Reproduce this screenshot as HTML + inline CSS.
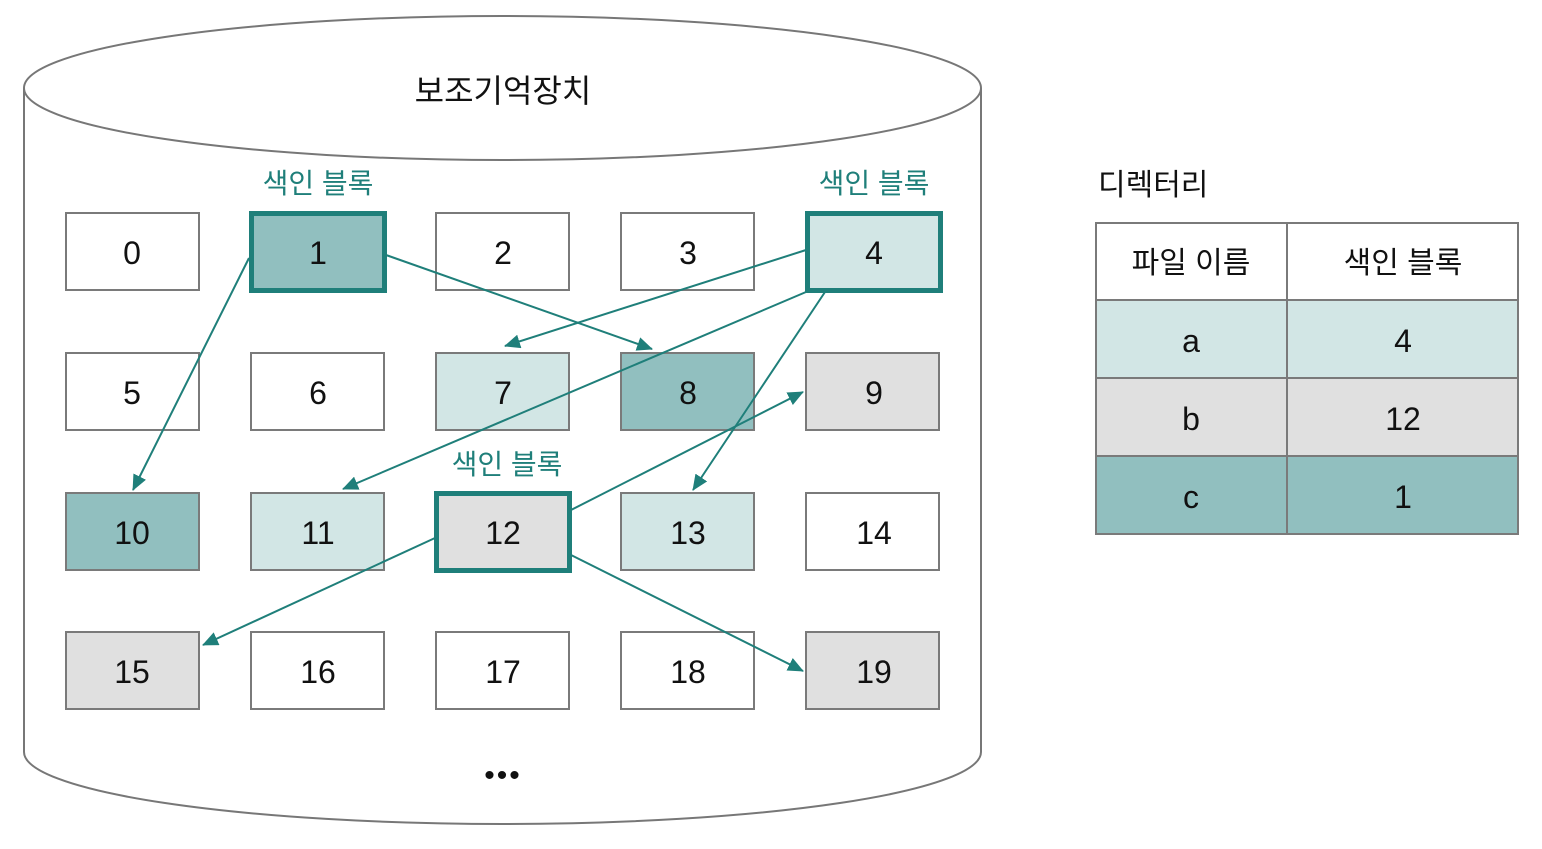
<!DOCTYPE html>
<html><head><meta charset="utf-8"><style>
html,body{margin:0;padding:0;background:#fff;}
svg text{font-family:"Liberation Sans","Noto Sans CJK KR",sans-serif;}
</style></head><body>
<svg width="1542" height="844" viewBox="0 0 1542 844" xmlns="http://www.w3.org/2000/svg">
<defs>
<marker id="a" markerWidth="10" markerHeight="10" refX="9" refY="5" orient="auto" markerUnits="userSpaceOnUse" viewBox="0 0 10 10">
<path d="M0,0 L10,5 L0,10 z" fill="#1f7f7a"/></marker>
<marker id="b" markerWidth="16" markerHeight="14" refX="15" refY="7" orient="auto" markerUnits="userSpaceOnUse" viewBox="0 0 16 14">
<path d="M0,0 L16,7 L0,14 z" fill="#1f7f7a"/></marker>
</defs>
<!-- cylinder -->
<path d="M24,88 L24,752 A478.5,72 0 0 0 981,752 L981,88" fill="#fff" stroke="#777" stroke-width="2"/>
<ellipse cx="502.5" cy="88" rx="478.5" ry="72" fill="#fff" stroke="#777" stroke-width="2"/>
<text x="503" y="102" font-size="32" text-anchor="middle" fill="#111">보조기억장치</text>
<text x="503" y="785" font-size="30" text-anchor="middle" fill="#111" letter-spacing="2">•••</text>
<g stroke="#7a7a7a" stroke-width="2">
<rect x="66" y="213" width="133" height="77" fill="#fff"/>
<rect x="436" y="213" width="133" height="77" fill="#fff"/>
<rect x="621" y="213" width="133" height="77" fill="#fff"/>
<rect x="66" y="353" width="133" height="77" fill="#fff"/>
<rect x="251" y="353" width="133" height="77" fill="#fff"/>
<rect x="436" y="353" width="133" height="77" fill="#d2e6e5"/>
<rect x="621" y="353" width="133" height="77" fill="#91bfbf"/>
<rect x="806" y="353" width="133" height="77" fill="#e0e0e0"/>
<rect x="66" y="493" width="133" height="77" fill="#91bfbf"/>
<rect x="251" y="493" width="133" height="77" fill="#d2e6e5"/>
<rect x="621" y="493" width="133" height="77" fill="#d2e6e5"/>
<rect x="806" y="493" width="133" height="77" fill="#fff"/>
<rect x="66" y="632" width="133" height="77" fill="#e0e0e0"/>
<rect x="251" y="632" width="133" height="77" fill="#fff"/>
<rect x="436" y="632" width="133" height="77" fill="#fff"/>
<rect x="621" y="632" width="133" height="77" fill="#fff"/>
<rect x="806" y="632" width="133" height="77" fill="#e0e0e0"/>
</g>
<g stroke="#1f7f7a" stroke-width="5">
<rect x="251.5" y="213.5" width="133" height="77" fill="#91bfbf"/>
<rect x="807.5" y="213.5" width="133" height="77" fill="#d2e6e5"/>
<rect x="436.5" y="493.5" width="133" height="77" fill="#e0e0e0"/>
</g>
<g font-size="32" text-anchor="middle" fill="#111">
<text x="132" y="264">0</text><text x="318" y="264">1</text><text x="503" y="264">2</text><text x="688" y="264">3</text><text x="874" y="264">4</text>
<text x="132" y="404">5</text><text x="318" y="404">6</text><text x="503" y="404">7</text><text x="688" y="404">8</text><text x="874" y="404">9</text>
<text x="132" y="544">10</text><text x="318" y="544">11</text><text x="503" y="544">12</text><text x="688" y="544">13</text><text x="874" y="544">14</text>
<text x="132" y="683">15</text><text x="318" y="683">16</text><text x="503" y="683">17</text><text x="688" y="683">18</text><text x="874" y="683">19</text>
</g>
<g font-size="28" text-anchor="middle" fill="#1f7f7a">
<text x="318" y="193">색인 블록</text>
<text x="874" y="193">색인 블록</text>
<text x="507" y="474">색인 블록</text>
</g>
<g stroke="#1f7f7a" stroke-width="2" fill="none" marker-end="url(#b)">
<line x1="249" y1="258" x2="133" y2="490"/>
<line x1="386" y1="255" x2="652" y2="349"/>
<line x1="806" y1="250" x2="505" y2="346"/>
<line x1="806" y1="292" x2="343" y2="489"/>
<line x1="825" y1="292" x2="693" y2="490"/>
<line x1="571" y1="510" x2="803" y2="392"/>
<line x1="435" y1="538" x2="203" y2="645"/>
<line x1="571" y1="555" x2="803" y2="671"/>
</g>
<!-- directory -->
<text x="1098" y="195" font-size="30" fill="#111">디렉터리</text>
<g stroke="#7a7a7a" stroke-width="2">
<rect x="1096" y="223" width="191" height="77" fill="#fff"/>
<rect x="1287" y="223" width="231" height="77" fill="#fff"/>
<rect x="1096" y="300" width="191" height="78" fill="#d2e6e5"/>
<rect x="1287" y="300" width="231" height="78" fill="#d2e6e5"/>
<rect x="1096" y="378" width="191" height="78" fill="#e0e0e0"/>
<rect x="1287" y="378" width="231" height="78" fill="#e0e0e0"/>
<rect x="1096" y="456" width="191" height="78" fill="#91bfbf"/>
<rect x="1287" y="456" width="231" height="78" fill="#91bfbf"/>
</g>
<g font-size="30" text-anchor="middle" fill="#111">
<text x="1191" y="273">파일 이름</text><text x="1403" y="273">색인 블록</text>
<text x="1191" y="352" font-size="32">a</text><text x="1403" y="352" font-size="32">4</text>
<text x="1191" y="430" font-size="32">b</text><text x="1403" y="430" font-size="32">12</text>
<text x="1191" y="508" font-size="32">c</text><text x="1403" y="508" font-size="32">1</text>
</g>
</svg>
</body></html>
